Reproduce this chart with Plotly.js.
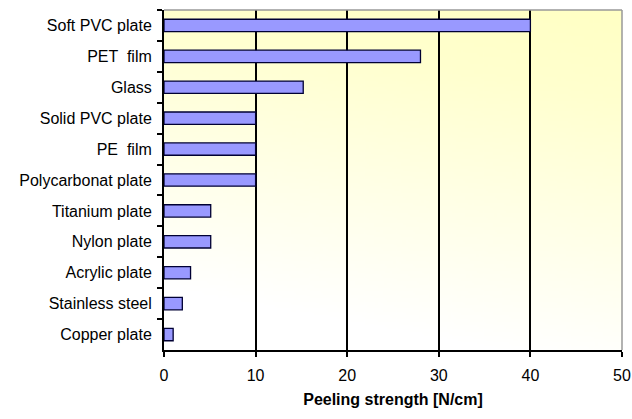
<!DOCTYPE html>
<html>
<head>
<meta charset="utf-8">
<script src="https://cdn.plot.ly/plotly-3.0.1.min.js"></script>
<style>html,body{margin:0;padding:0;background:#fff;}#chart{width:632px;height:419px;}</style>
</head>
<body>
<div id="chart"></div>
<script>
var categories = ["Soft PVC plate", "PET  film", "Glass", "Solid PVC plate", "PE  film", "Polycarbonat plate", "Titanium plate", "Nylon plate", "Acrylic plate", "Stainless steel", "Copper plate"];
var values = [40, 28, 15.2, 10, 10, 10, 5.1, 5.1, 2.9, 2, 1];
var xTicks = [0, 10, 20, 30, 40, 50];

// gradient background image
var cv = document.createElement('canvas');
cv.width = 200; cv.height = 200;
var ctx = cv.getContext('2d');
var g = ctx.createLinearGradient(200, 0, 150, 200);
g.addColorStop(0, '#FFFFC4');
g.addColorStop(0.25, '#FFFFCE');
g.addColorStop(1, '#FFFFFF');
ctx.fillStyle = g;
ctx.fillRect(0, 0, 200, 200);
var bg = cv.toDataURL('image/png');

var fontFam = '"Liberation Sans", Arial, sans-serif';

Plotly.newPlot('chart', [{
  type: 'bar',
  orientation: 'h',
  y: categories,
  x: values,
  marker: {color: '#9999FF', line: {color: '#000033', width: 1.3}},
  hoverinfo: 'none'
}], {
  width: 632, height: 419,
  margin: {l: 164, r: 10, t: 10, b: 69},
  paper_bgcolor: '#fff',
  plot_bgcolor: 'rgba(0,0,0,0)',
  bargap: 0.6,
  showlegend: false,
  font: {family: fontFam, size: 16, color: '#000'},
  images: [{source: bg, xref: 'paper', yref: 'paper', x: 0, y: 1, sizex: 1, sizey: 1, sizing: 'stretch', layer: 'below'}],
  xaxis: {
    range: [0, 50], tickvals: xTicks, ticktext: xTicks.map(String),
    showgrid: true, gridcolor: '#000', gridwidth: 2,
    showline: true, linecolor: '#000', linewidth: 2,
    ticks: 'outside', ticklen: 5, tickcolor: '#000', tickwidth: 2,
    ticklabelstandoff: 5,
    zeroline: false, fixedrange: true,
    tickfont: {size: 16, family: fontFam},
    title: {text: 'Peeling strength [N/cm]', font: {size: 16, family: fontFam, weight: 'bold'}, standoff: 11}
  },
  yaxis: {
    type: 'category', autorange: 'reversed',
    showgrid: false, zeroline: false,
    showline: true, linecolor: '#000', linewidth: 2,
    ticks: 'outside', tickson: 'boundaries', ticklen: 5, tickcolor: '#000', tickwidth: 2,
    ticklabelstandoff: 7,
    tickfont: {size: 16, family: fontFam},
    fixedrange: true
  },
  shapes: [
    {type: 'line', xref: 'paper', yref: 'paper', x0: 0, x1: 1, y0: 1, y1: 1, line: {color: '#999', width: 1.5}, layer: 'above'},
    {type: 'line', xref: 'paper', yref: 'paper', x0: 1, x1: 1, y0: 0, y1: 1, line: {color: '#999', width: 1.5}, layer: 'above'}
  ]
}, {displayModeBar: false, staticPlot: true});
</script>
</body>
</html>
